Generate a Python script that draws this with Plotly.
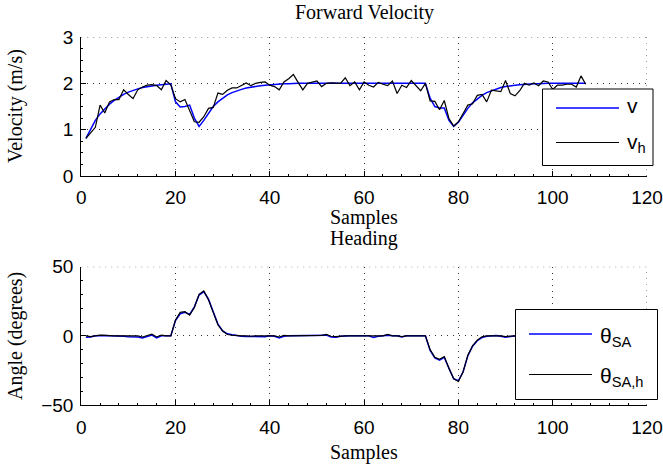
import plotly.graph_objects as go

# ---------------- data ----------------
samples = list(range(1, 108))

v = [0.81, 1.02, 1.20, 1.34, 1.45, 1.55, 1.63, 1.70, 1.76, 1.81,
     1.85, 1.88, 1.91, 1.93, 1.95, 1.96, 1.97, 1.98, 1.99, 1.60,
     1.49, 1.50, 1.53, 1.25, 1.07, 1.20, 1.36, 1.50, 1.60, 1.68,
     1.75, 1.80, 1.84, 1.87, 1.90, 1.92, 1.94, 1.95, 1.96, 1.97,
     1.98, 1.98, 1.99, 1.99, 2.00, 2.00, 2.00, 2.00, 2.00, 2.00,
     2.00, 2.00, 2.00, 2.00, 2.00, 2.00, 2.00, 2.00, 2.00, 2.00,
     2.00, 2.00, 2.00, 2.00, 2.00, 2.00, 2.00, 2.00, 2.00, 2.00,
     2.00, 2.00, 2.00, 1.68, 1.50, 1.47, 1.47, 1.20, 1.07, 1.16,
     1.32, 1.46, 1.58, 1.67, 1.74, 1.80, 1.84, 1.88, 1.91, 1.93,
     1.95, 1.96, 1.97, 1.98, 1.98, 1.99, 1.99, 2.00, 2.00, 2.00,
     2.00, 2.00, 2.00, 2.00, 2.00, 2.00, 2.00]

v_h = [0.81, 0.93, 1.05, 1.53, 1.36, 1.60, 1.65, 1.65, 1.86, 1.76,
       1.67, 1.86, 1.92, 1.96, 1.97, 1.95, 1.86, 2.06, 1.97, 1.67,
       1.60, 1.65, 1.40, 1.17, 1.16, 1.28, 1.46, 1.48, 1.79, 1.76,
       1.85, 1.90, 1.90, 1.95, 2.01, 1.95, 2.00, 2.02, 2.03, 1.96,
       1.93, 1.86, 2.03, 2.10, 2.19, 2.02, 1.86, 2.00, 2.03, 2.05,
       1.93, 2.00, 2.01, 2.00, 2.00, 2.12, 1.95, 2.03, 1.86, 2.03,
       1.96, 1.92, 2.02, 1.98, 1.95, 2.05, 1.78, 1.96, 1.91, 2.06,
       1.95, 1.84, 2.00, 1.62, 1.61, 1.43, 1.63, 1.24, 1.08, 1.17,
       1.35, 1.53, 1.56, 1.74, 1.76, 1.60, 1.85, 1.83, 1.82, 2.06,
       1.78, 1.73, 1.84, 2.00, 1.96, 2.01, 1.95, 2.05, 2.03, 1.87,
       1.96, 1.96, 1.98, 1.98, 1.92, 2.16, 1.98]

theta_sa = [-1.0, -0.8, 0.0, 0.3, 0.2, 0.0, 0.0, 0.0, -0.3, -0.6,
            -0.6, -0.8, -1.5, -0.3, 0.6, -1.5, 0.0, 0.0, 0.0, 11.0,
            16.0, 17.0, 15.5, 21.0, 29.5, 32.0, 26.5, 17.5, 8.5, 3.5,
            1.5, 0.8, 0.0, -0.3, -0.5, -0.5, -0.5, -0.3, -0.6, 0.0,
            -0.3, -1.5, -0.3, 0.0, 0.0, 0.0, 0.0, 0.0, 0.0, 0.0,
            0.3, 0.5, -0.8, -1.0, -0.3, 0.0, 0.0, 0.0, 0.0, 0.0,
            0.0, -1.2, -0.3, 0.0, 0.5, 0.0, 0.0, -0.8, 0.0, 0.0,
            0.0, 0.0, 0.0, -10.5, -16.0, -17.5, -15.5, -23.5, -31.0, -32.5,
            -26.0, -14.5, -7.5, -3.5, -1.2, -0.3, 0.0, 0.3, -0.3, -1.0,
            -0.5, 0.0, 0.3, 0.0, 0.0, -0.5, 0.0, 0.0, 0.0, 0.0,
            0.0, 0.0, 0.0, 0.0, 0.0, 0.0, 0.0]

theta_sa_h = [0.0, -0.5, 0.0, 0.5, 0.3, 0.0, 0.0, 0.0, 0.0, -0.3,
              -0.3, 0.0, -0.8, 0.0, 1.2, -0.8, 0.5, 0.0, 0.0, 11.5,
              17.0, 17.5, 15.0, 20.5, 30.0, 32.5, 26.0, 17.0, 8.0, 3.5,
              1.0, 0.5, 0.0, 0.0, 0.0, -0.3, 0.0, 0.0, 0.3, 0.0,
              0.0, -0.8, 0.3, 0.0, 0.0, 0.0, 0.0, 0.0, 0.0, 0.0,
              0.3, 1.0, -0.3, -0.5, 0.0, 0.0, 0.0, 0.0, 0.0, 0.0,
              0.0, -0.5, 0.0, 0.0, 1.0, 0.0, 0.0, -0.5, 0.0, 0.0,
              0.0, 0.0, 0.0, -10.0, -15.5, -17.0, -15.0, -23.5, -31.0, -33.0,
              -26.0, -14.0, -7.2, -3.1, -0.7, 0.0, 0.0, 0.5, 0.0, -0.5,
              0.0, 0.0, 0.3, 0.0, 0.0, 0.0, 0.0, 0.0, 0.0, 0.0,
              0.0, 0.0, 0.0, 0.0, 0.0, 0.0, 0.0]

x_ticks = [0, 20, 40, 60, 80, 100, 120]
v_ticks = [0, 1, 2, 3]
angle_ticks = [-50, 0, 50]

# ---------------- layout helpers ----------------
W, H = 663, 465


def px(x):
    return x / W


def py(y):
    return 1 - y / H


SANS = "Liberation Sans, Arial, sans-serif"
SERIF = "Liberation Serif, Times New Roman, serif"
BLUE = "#0000ff"
GRID = "#333333"
GRID_DASH = "1px,5px"

common_axis = dict(
    showline=True, linecolor="black", linewidth=1, mirror=False,
    ticks="inside", ticklen=5, tickcolor="black", tickwidth=1,
    showgrid=True, gridcolor=GRID, griddash=GRID_DASH, gridwidth=1,
    zeroline=False, fixedrange=True, automargin=False,
    tickfont=dict(family=SANS, size=19, color="black"),
)

fig = go.Figure()

fig.add_trace(go.Scatter(x=samples, y=v, mode="lines", name="v",
                         line=dict(color=BLUE, width=1.5),
                         xaxis="x", yaxis="y", showlegend=False))
fig.add_trace(go.Scatter(x=samples, y=v_h, mode="lines", name="v_h",
                         line=dict(color="black", width=1.2),
                         xaxis="x", yaxis="y", showlegend=False))
fig.add_trace(go.Scatter(x=samples, y=theta_sa, mode="lines", name="θ_SA",
                         line=dict(color=BLUE, width=1.5),
                         xaxis="x2", yaxis="y2", showlegend=False))
fig.add_trace(go.Scatter(x=samples, y=theta_sa_h, mode="lines", name="θ_SA,h",
                         line=dict(color="black", width=1.2),
                         xaxis="x2", yaxis="y2", showlegend=False))

xdom = [px(81.2), px(647)]

fig.update_layout(
    width=W, height=H, autosize=False,
    margin=dict(l=0, r=0, t=0, b=0, pad=0, autoexpand=False),
    paper_bgcolor="white", plot_bgcolor="white",
    xaxis=dict(common_axis, domain=xdom, anchor="y", range=[0, 120],
               tickvals=x_ticks, ticklabelstandoff=4,
               minor=dict(ticks="inside", ticklen=2, tickcolor="black", dtick=4, showgrid=False)),
    yaxis=dict(common_axis, domain=[py(176), py(37)], anchor="x", range=[0, 3],
               tickvals=v_ticks, ticklabelstandoff=3,
               minor=dict(ticks="inside", ticklen=2, tickcolor="black", dtick=0.25, showgrid=False)),
    xaxis2=dict(common_axis, domain=xdom, anchor="y2", range=[0, 120],
                tickvals=x_ticks, ticklabelstandoff=5,
                minor=dict(ticks="inside", ticklen=2, tickcolor="black", dtick=4, showgrid=False)),
    yaxis2=dict(common_axis, domain=[py(405), py(266.7)], anchor="x2", range=[-50, 50],
                tickvals=angle_ticks, ticklabelstandoff=3,
                minor=dict(ticks="inside", ticklen=2, tickcolor="black", dtick=10, showgrid=False)),
)

# titles and axis labels
ann = []


def text(s, x, y, size, family=SERIF, angle=0, xanchor="center"):
    ann.append(dict(text=s, x=px(x), y=py(y), xref="paper", yref="paper",
                    showarrow=False, textangle=angle, xanchor=xanchor, yanchor="middle",
                    font=dict(family=family, size=size, color="black")))


text("Forward Velocity", 364, 13, 20)
text("Samples", 364, 217, 20)
text("Heading", 364, 238, 20)
text("Samples", 364, 452, 20)
text("Velocity (m/s)", 15, 106, 20, angle=-90)
text("Angle (degrees)", 15, 336, 20, angle=-90)

shapes = []

# dotted grid lines at the far edges (top and right), as in the reference
for xa, ya, ytop in (("x", "y", 3), ("x2", "y2", 50)):
    shapes.append(dict(type="line", xref=xa, yref=ya, x0=0, x1=120, y0=ytop, y1=ytop,
                       line=dict(color=GRID, width=1, dash=GRID_DASH), layer="below"))
for xa, ya, (ylo, yhi) in (("x", "y", (0, 3)), ("x2", "y2", (-50, 50))):
    shapes.append(dict(type="line", xref=xa, yref=ya, x0=120, x1=120, y0=ylo, y1=yhi,
                       line=dict(color=GRID, width=1, dash=GRID_DASH), layer="below"))


# legends (drawn as boxes with sample lines)
def legend_box(x0, y0, x1, y1):
    shapes.append(dict(type="rect", xref="paper", yref="paper",
                       x0=px(x0), x1=px(x1), y0=py(y1), y1=py(y0),
                       line=dict(color="black", width=1), fillcolor="white", layer="above"))


def legend_line(x0, x1, y, color, width):
    shapes.append(dict(type="line", xref="paper", yref="paper",
                       x0=px(x0), x1=px(x1), y0=py(y), y1=py(y),
                       line=dict(color=color, width=width), layer="above"))


legend_box(542.5, 89, 653, 165.5)
legend_line(556, 619, 108, BLUE, 1.5)
legend_line(556, 619, 142.5, "black", 1)
text("v", 625, 105, 21, family=SANS, xanchor="left")
text("v<sub>h</sub>", 625, 143, 21, family=SANS, xanchor="left")

legend_box(515.5, 309.5, 657.5, 399.5)
legend_line(529, 592, 334, BLUE, 1.5)
legend_line(529, 592, 374.5, "black", 1)
text("θ<sub>SA</sub>", 598, 337, 21, family=SANS, xanchor="left")
text("θ<sub>SA,h</sub>", 598, 377, 21, family=SANS, xanchor="left")

fig.update_layout(annotations=ann, shapes=shapes)

fig.write_html("out.html")
